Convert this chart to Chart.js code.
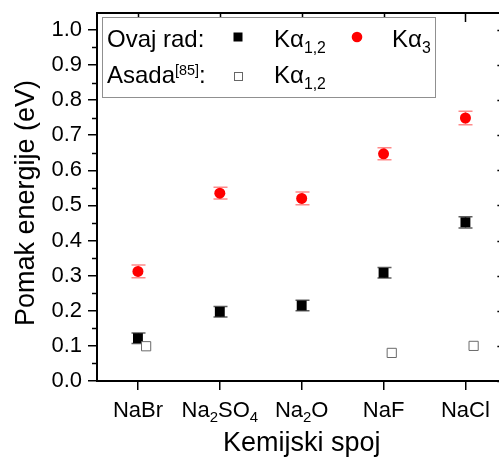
<!DOCTYPE html>
<html>
<head>
<meta charset="utf-8">
<script src="https://cdn.jsdelivr.net/npm/chart.js@4.4.1/dist/chart.umd.min.js"></script>
<style>
  html, body { margin: 0; padding: 0; background: #fff; }
  #wrap { width: 499px; height: 459px; }
</style>
</head>
<body>
<div id="wrap"><canvas id="chart" width="499" height="459"></canvas></div>
<script>
// --- podaci očitani sa slike ---
const categories = ["NaBr", "Na_{2}SO_{4}", "Na_{2}O", "NaF", "NaCl"];
const yTicks = [0, 0.1, 0.2, 0.3, 0.4, 0.5, 0.6, 0.7, 0.8, 0.9, 1.0];

// Ovaj rad: Kα1,2 i Kα3 (s pogreškama)
const ka12 = [0.122, 0.197, 0.215, 0.308, 0.452];
const ka12Err = [0.015, 0.015, 0.015, 0.015, 0.016];
const ka3 = [0.312, 0.535, 0.520, 0.647, 0.749];
const ka3Err = [0.018, 0.017, 0.018, 0.017, 0.019];

// Asada [85]: Kα1,2 (samo za neke spojeve)
const asada = [0.099, null, null, 0.080, 0.100];
const asadaShift = 0.1;   // pomak u x da se ne preklapa

const FONT = "'Liberation Sans', Arial, sans-serif";

// --- crtanje teksta s indeksima _{..} i eksponentima ^{..} ---
function parseRich(str) {
  const parts = [];
  const re = /([_^])\{([^}]*)\}/g;
  let last = 0, m;
  while ((m = re.exec(str))) {
    if (m.index > last) parts.push({ t: str.slice(last, m.index), k: "n" });
    parts.push({ t: m[2], k: m[1] === "_" ? "sub" : "sup" });
    last = re.lastIndex;
  }
  if (last < str.length) parts.push({ t: str.slice(last), k: "n" });
  return parts;
}

function drawRich(ctx, str, x, y, size, align, opt) {
  opt = opt || {};
  const subSize = size * (opt.subScale || 0.68);
  const parts = parseRich(str);
  const fontOf = p => (p.k === "n" ? size : subSize) + "px " + FONT;
  let w = 0;
  for (const p of parts) { ctx.font = fontOf(p); w += ctx.measureText(p.t).width; }
  let cx = align === "center" ? x - w / 2 : x;
  ctx.textAlign = "left";
  ctx.textBaseline = "alphabetic";
  for (const p of parts) {
    ctx.font = fontOf(p);
    let dy = 0;
    if (p.k === "sub") dy = size * 0.24;
    if (p.k === "sup") dy = -size * 0.33;
    ctx.fillText(p.t, cx, y + dy);
    cx += ctx.measureText(p.t).width;
  }
}

// --- stupci pogrešaka ---
const errorBars = {
  id: "errorBars",
  beforeDatasetsDraw(chart) {
    const { ctx, scales: { x, y } } = chart;
    const sets = [
      { vals: ka12, errs: ka12Err, color: "rgba(40,40,40,0.75)" },
      { vals: ka3, errs: ka3Err, color: "rgba(255,60,60,0.6)" }
    ];
    ctx.save();
    ctx.lineWidth = 1.5;
    for (const s of sets) {
      ctx.strokeStyle = s.color;
      s.vals.forEach((v, i) => {
        const px = Math.round(x.getPixelForValue(i)) + 0.5;
        const y1 = y.getPixelForValue(v - s.errs[i]);
        const y2 = y.getPixelForValue(v + s.errs[i]);
        ctx.beginPath();
        ctx.moveTo(px, y1); ctx.lineTo(px, y2);
        ctx.moveTo(px - 7, y1); ctx.lineTo(px + 7, y1);
        ctx.moveTo(px - 7, y2); ctx.lineTo(px + 7, y2);
        ctx.stroke();
      });
    }
    ctx.restore();
  }
};

// --- okvir, sporedne crtice, natpisi osi i legenda ---
const decorations = {
  id: "decorations",
  afterDraw(chart) {
    const { ctx, chartArea: a, scales: { x, y } } = chart;
    const rightV = x.getPixelForValue(4.5);   // desni rub okvira (izvan slike)
    ctx.save();
    ctx.strokeStyle = "#000";
    ctx.fillStyle = "#000";

    // gornja i desna linija okvira
    ctx.lineWidth = 2;
    ctx.beginPath();
    ctx.moveTo(a.left - 1, a.top); ctx.lineTo(rightV, a.top);
    ctx.moveTo(rightV, a.top); ctx.lineTo(rightV, a.bottom);
    ctx.stroke();

    // crtice prema unutra: gore i desno
    ctx.lineWidth = 1.5;
    ctx.beginPath();
    categories.forEach((_, i) => {
      const px = Math.round(x.getPixelForValue(i)) + 0.5;
      ctx.moveTo(px, a.top); ctx.lineTo(px, a.top + 9);
    });
    yTicks.forEach(v => {
      const py = Math.round(y.getPixelForValue(v)) + 0.5;
      ctx.moveTo(rightV - 9, py); ctx.lineTo(rightV, py);
    });
    // sporedne crtice lijevo
    yTicks.forEach(v => {
      const mv = v + 0.05;
      if (mv > y.max) return;
      const py = Math.round(y.getPixelForValue(mv)) + 0.5;
      ctx.moveTo(a.left - 5, py); ctx.lineTo(a.left, py);
    });
    ctx.stroke();

    // oznake kategorija
    categories.forEach((c, i) => {
      drawRich(ctx, c, x.getPixelForValue(i), 417, 22, "center");
    });

    // naslovi osi
    ctx.font = "27px " + FONT;
    ctx.textAlign = "center";
    ctx.textBaseline = "alphabetic";
    ctx.fillText("Kemijski spoj", (a.left + rightV) / 2, 451);
    ctx.save();
    ctx.translate(34, 203);
    ctx.rotate(-Math.PI / 2);
    ctx.fillText("Pomak energije (eV)", 0, 0);
    ctx.restore();

    // legenda
    ctx.fillStyle = "#fff";
    ctx.fillRect(102.5, 17.5, 333, 80);
    ctx.strokeStyle = "#909090";
    ctx.lineWidth = 1;
    ctx.strokeRect(102.5, 17.5, 333, 80);
    ctx.fillStyle = "#000";
    drawRich(ctx, "Ovaj rad:", 107, 47, 24, "left");
    drawRich(ctx, "Asada^{[85]}:", 107, 83, 24, "left", { subScale: 0.6 });
    drawRich(ctx, "K\u03b1_{1,2}", 274, 47, 24, "left", { subScale: 0.66 });
    drawRich(ctx, "K\u03b1_{1,2}", 274, 83, 24, "left", { subScale: 0.66 });
    drawRich(ctx, "K\u03b1_{3}", 392, 47, 24, "left", { subScale: 0.66 });
    // simboli legende
    ctx.fillStyle = "#000";
    ctx.fillRect(233.5, 32.5, 9, 9);
    ctx.fillStyle = "#ff0000";
    ctx.beginPath(); ctx.arc(357, 37, 5.3, 0, Math.PI * 2); ctx.fill();
    ctx.fillStyle = "#fff";
    ctx.strokeStyle = "#666";
    ctx.fillRect(234.5, 72.5, 8, 8);
    ctx.strokeRect(234.5, 72.5, 8, 8);
    ctx.restore();
  }
};

const chart = new Chart(document.getElementById("chart"), {
  type: "scatter",
  data: {
    datasets: [
      {
        label: "Asada Kα1,2",
        data: asada.map((v, i) => (v == null ? null : { x: i + asadaShift, y: v })).filter(Boolean),
        pointStyle: "rect",
        pointRadius: 6.5,
        backgroundColor: "#fff",
        borderColor: "#6a6a6a",
        borderWidth: 1,
        order: 0
      },
      {
        label: "Kα1,2",
        data: ka12.map((v, i) => ({ x: i, y: v })),
        pointStyle: "rect",
        pointRadius: 7,
        backgroundColor: "#000",
        borderColor: "#000",
        borderWidth: 0,
        order: 1
      },
      {
        label: "Kα3",
        data: ka3.map((v, i) => ({ x: i, y: v })),
        pointStyle: "circle",
        pointRadius: 5.5,
        backgroundColor: "#ff0000",
        borderColor: "#ff0000",
        borderWidth: 0,
        order: 2
      }
    ]
  },
  options: {
    responsive: false,
    animation: false,
    devicePixelRatio: 1,
    layout: { autoPadding: false, padding: { top: 13, right: 0, left: 0, bottom: 0 } },
    plugins: { legend: { display: false }, tooltip: { enabled: false } },
    scales: {
      x: {
        type: "linear",
        min: -0.5,
        max: 4.41,
        afterFit: s => { s.height = 78; s.paddingLeft = 0; s.paddingRight = 0; },
        afterBuildTicks: s => { s.ticks = categories.map((_, i) => ({ value: i })); },
        ticks: { display: false },
        grid: { drawOnChartArea: false, tickLength: 9, color: "#000", lineWidth: 1.5 },
        border: { display: true, color: "#000", width: 2 }
      },
      y: {
        type: "linear",
        min: 0,
        max: 1.048,
        afterFit: s => { s.width = 97; s.paddingTop = 0; s.paddingBottom = 0; },
        afterBuildTicks: s => { s.ticks = yTicks.map(v => ({ value: v })); },
        ticks: {
          color: "#000",
          padding: 6,
          font: { family: FONT, size: 22 },
          callback: v => Number(v).toFixed(1)
        },
        grid: { drawOnChartArea: false, tickLength: 9, color: "#000", lineWidth: 1.5 },
        border: { display: true, color: "#000", width: 2 }
      }
    }
  },
  plugins: [errorBars, decorations]
});
</script>
</body>
</html>
